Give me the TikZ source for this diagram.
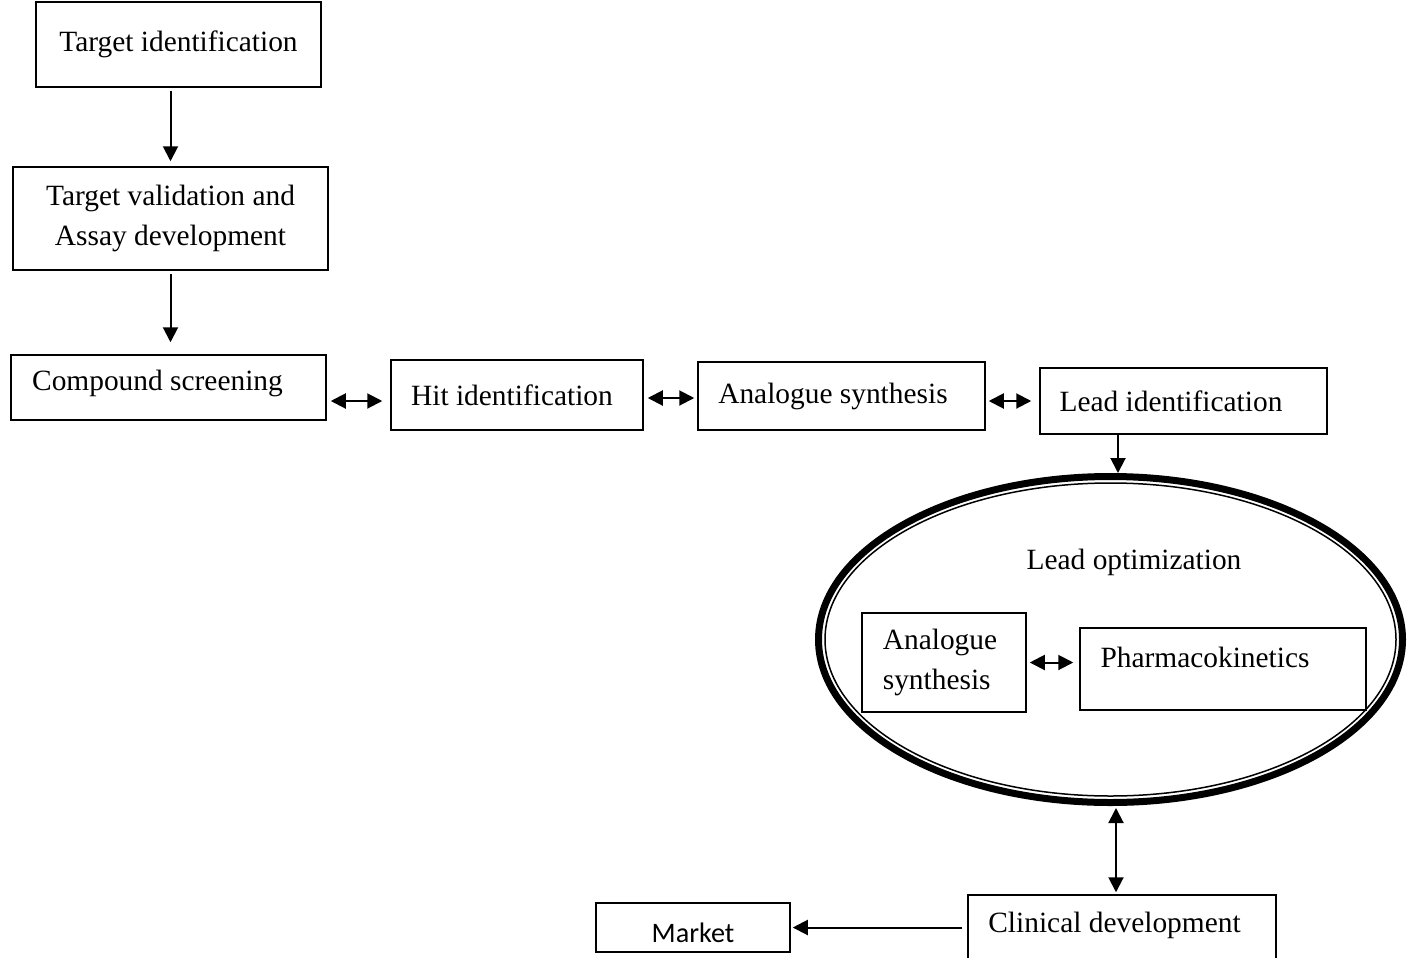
\documentclass[tikz,border=0pt]{standalone}
\usepackage{fontspec}
\setmainfont{Liberation Serif}
\newfontfamily\marketfont{Carlito}
\usetikzlibrary{arrows.meta,shapes.geometric}
\begin{document}
\begin{tikzpicture}[x=0.5pt, y=-0.5pt,
    box/.style={draw, line width=0.75pt, inner sep=0pt, align=center,
                font=\fontsize{14.7}{19.7}\selectfont},
    tip/.style={line width=1pt, -{Triangle[length=7.5pt,width=7.5pt]}},
    tips/.style={line width=1pt, {Triangle[length=7.5pt,width=7.5pt]}-{Triangle[length=7.5pt,width=7.5pt]}}]
    \useasboundingbox (0,0) rectangle (1408,958);
    \clip (0,0) rectangle (1408,958);
    \node[box, minimum width=142.5pt, minimum height=42.5pt] (tid) at (178.5,44.5) {Target identification};
    \node[box, minimum width=157.5pt, minimum height=51.5pt] (tval) at (170.5,218.5) {Target validation and\\Assay development};
    \node[box, minimum width=157.5pt, minimum height=32.5pt] (scr) at (168.5,387.5) {\hspace*{-11pt}\raisebox{2pt}[\height][\depth]{Compound screening}};
    \node[box, minimum width=126pt, minimum height=35pt] (hit) at (517,395) {\hspace*{-5pt}Hit identification};
    \node[box, minimum width=143.5pt, minimum height=34pt] (syn) at (841.5,396) {\hspace*{-8.5pt}Analogue synthesis};
    \node[box, minimum width=143.5pt, minimum height=33pt] (lead) at (1183.5,401) {\hspace*{-12.5pt}Lead identification};
    % lead optimization ellipse (thick-thin line)
    \node[draw, ellipse, line width=3.5pt, inner sep=0pt, minimum width=292pt, minimum height=163pt] (opt) at (1110.5,639.5) {};
    \node[draw, ellipse, line width=0.75pt, inner sep=0pt, minimum width=285.5pt, minimum height=156.5pt] (optin) at (1110.5,639.5) {};
    \node[font=\fontsize{14.7}{19.7}\selectfont] (optlab) at (1134,562) {Lead optimization};
    \node[box, align=left, minimum width=82pt, minimum height=49.5pt] (syn2) at (944,662.5) {\hspace*{-4pt}Analogue\\\hspace*{-4pt}synthesis};
    \node[box, minimum width=143pt, minimum height=41pt] (pk) at (1223,669) {\hspace*{-18pt}\raisebox{6pt}[\height][\depth]{Pharmacokinetics}};
    \node[box, minimum width=154pt, minimum height=40pt] (clin) at (1122,935) {\hspace*{-7.5pt}\raisebox{5pt}[\height][\depth]{Clinical development}};
    \node[box, font=\marketfont\fontsize{14.1}{17}\selectfont, minimum width=97pt, minimum height=24.5pt] (mkt) at (693,927.5) {\raisebox{-2.5pt}[\height][\depth]{Market}};
    % connectors
    \draw[tip, shorten <=1.5pt, shorten >=2.5pt] (tval.north |- tid.south) -- (tval.north);
    \draw[tip, shorten <=1.5pt, shorten >=6pt] (tval.south) -- (tval.south |- scr.north);
    \draw[tips, shorten <=2pt, shorten >=4pt] ([yshift=-3pt]scr.east |- hit.west) -- ([yshift=-3pt]hit.west);
    \draw[tips, shorten <=2pt, shorten >=1.5pt] ([yshift=-1.5pt]hit.east) -- ([yshift=-1.5pt]hit.east -| syn.west);
    \draw[tips, shorten <=1.5pt, shorten >=4pt] (syn.east |- lead.west) -- (lead.west);
    \draw[tip] ([xshift=3.75pt]opt.north |- lead.south) -- ([xshift=3.75pt]opt.north);
    \draw[tips, shorten <=1.5pt, shorten >=3pt] (syn2.east) -- (syn2.east -| pk.west);
    \draw[tips, shorten <=1pt, shorten >=1pt] ([xshift=2.75pt]opt.south) -- ([xshift=2.75pt]opt.south |- clin.north);
    \draw[tip, shorten <=2.5pt, shorten >=1pt] (clin.west |- mkt.east) -- (mkt.east);
\end{tikzpicture}
\end{document}
